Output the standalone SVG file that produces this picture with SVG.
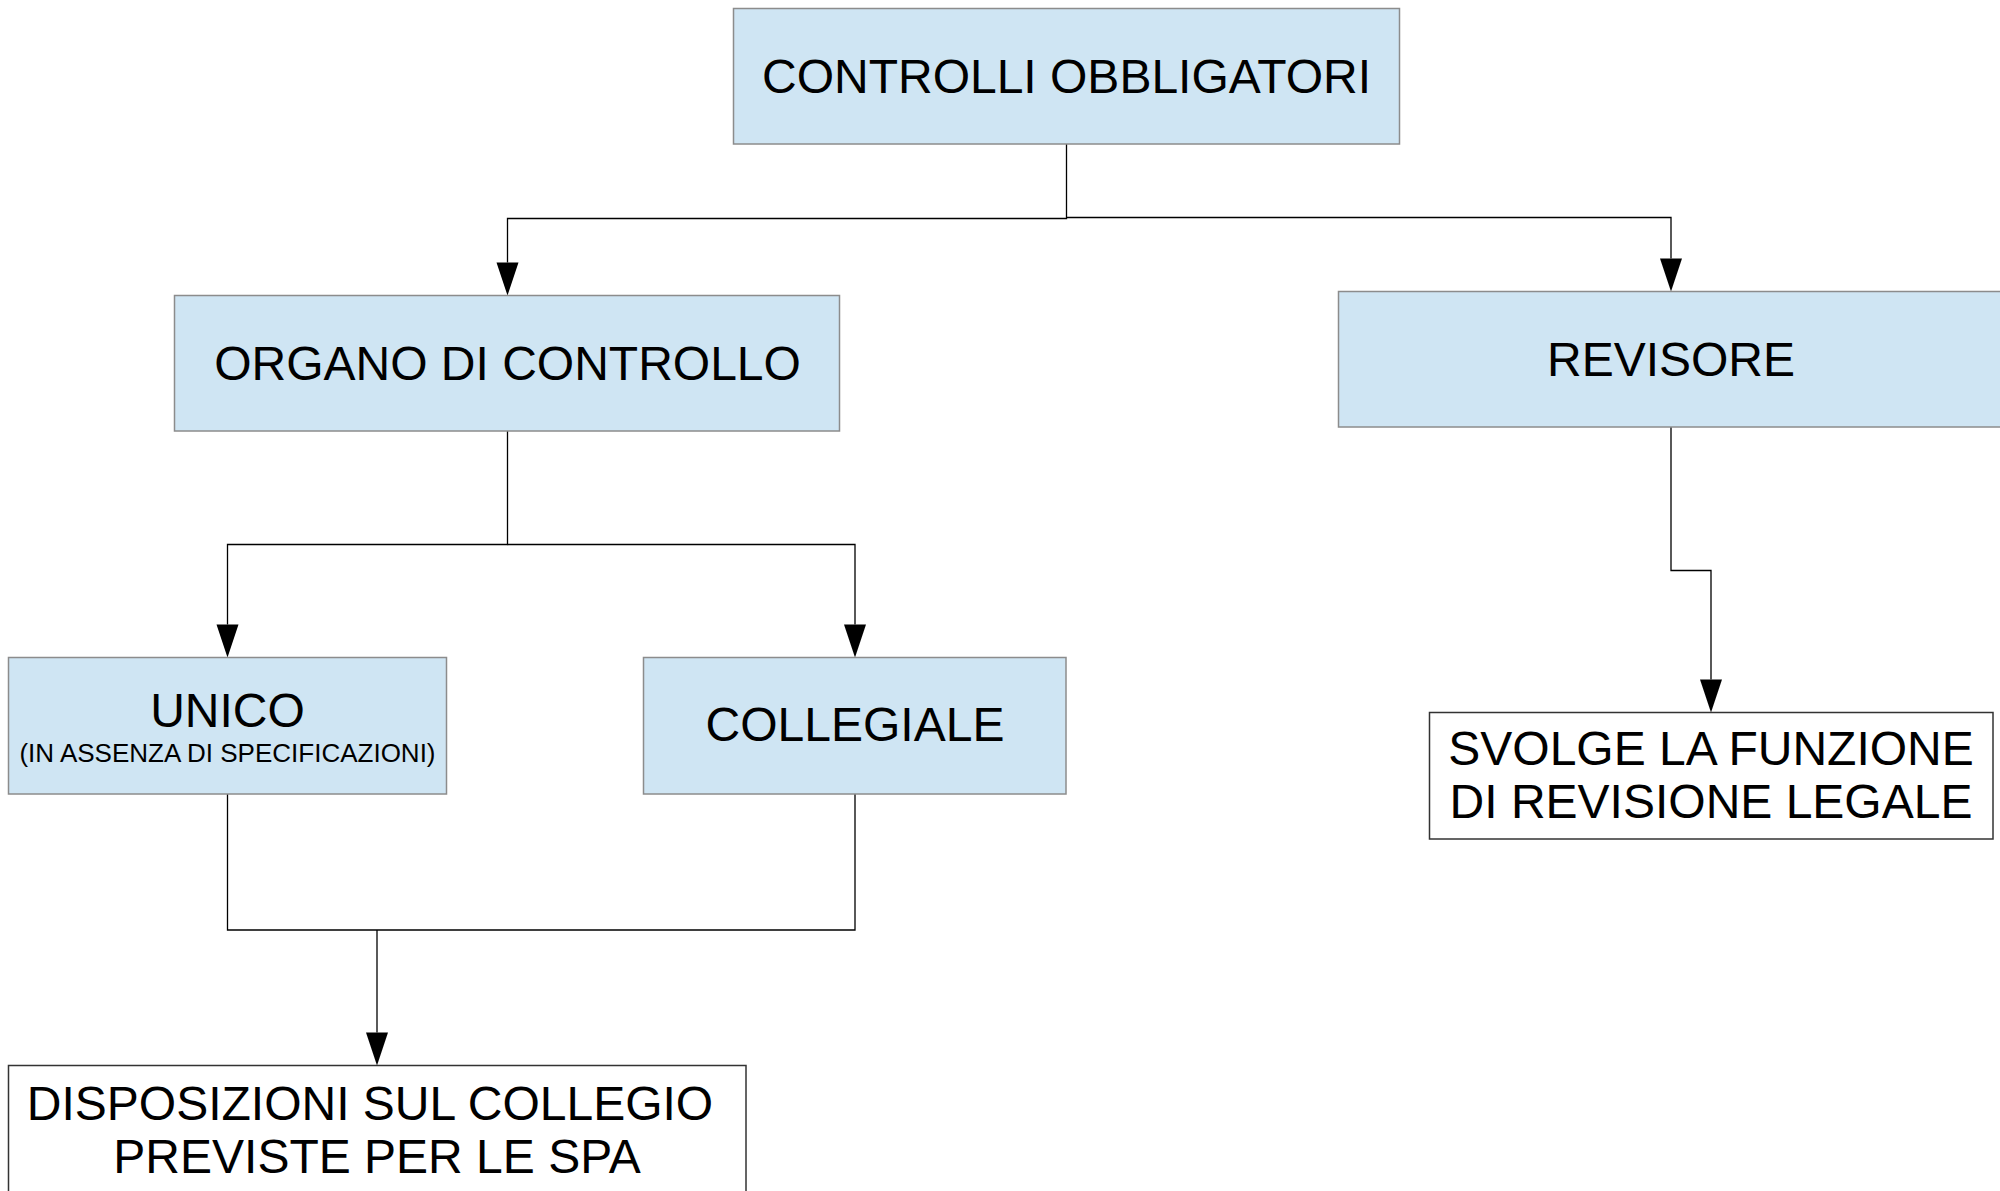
<svg xmlns="http://www.w3.org/2000/svg" width="2000" height="1191" viewBox="0 0 2000 1191">
<style>
  .blue { fill: #cfe5f3; stroke: #8c8c8c; stroke-width: 1.5; }
  .white { fill: #ffffff; stroke: #333333; stroke-width: 1.5; }
  .t { font-family: "Liberation Sans", Arial, sans-serif; font-size: 48px; fill: #000; text-anchor: middle; }
  .s { font-family: "Liberation Sans", Arial, sans-serif; font-size: 26px; fill: #000; text-anchor: middle; }
  .c { fill: none; stroke: #000; stroke-width: 1.3; }
</style>
<defs>
  <marker id="arr" viewBox="0 0 22 33" refX="11" refY="33" markerWidth="22" markerHeight="33" markerUnits="userSpaceOnUse" orient="auto-start-reverse">
    <path d="M0,0 L22,0 L11,33 Z" fill="#000"/>
  </marker>
</defs>
<rect width="2000" height="1191" fill="#fff"/>
<g id="connectors">
  <path class="c" d="M1066.5,144 V218.5 H507.5 V262.5"/>
  <path class="c" d="M1066.5,217.5 H1671 V258.5"/>
  <path class="c" d="M507.5,431 V544.5 H227.5 V624.5"/>
  <path class="c" d="M507.5,544.5 H855 V624.5"/>
  <path class="c" d="M227.5,794 V930 H855 V794"/>
  <path class="c" d="M377,930 V1032.5"/>
  <path class="c" d="M1671,427 V570.5 H1711 V679.5"/>
  <g fill="#000">
    <path d="M496.5,262.5 H518.5 L507.5,295.5 Z"/>
    <path d="M1660,258.5 H1682 L1671,291.5 Z"/>
    <path d="M216.5,624.5 H238.5 L227.5,657.5 Z"/>
    <path d="M844,624.5 H866 L855,657.5 Z"/>
    <path d="M366,1032.5 H388 L377,1065.5 Z"/>
    <path d="M1700,679.5 H1722 L1711,712.5 Z"/>
  </g>
</g>
<g id="controlli">
  <rect class="blue" x="733.5" y="8.5" width="666" height="135.5"/>
  <text class="t" x="1066.5" y="93">CONTROLLI OBBLIGATORI</text>
</g>
<g id="organo">
  <rect class="blue" x="174.5" y="295.5" width="665" height="135.5"/>
  <text class="t" x="507.5" y="380">ORGANO DI CONTROLLO</text>
</g>
<g id="revisore">
  <rect class="blue" x="1338.5" y="291.5" width="670" height="135.5"/>
  <text class="t" x="1671" y="376">REVISORE</text>
</g>
<g id="unico">
  <rect class="blue" x="8.5" y="657.5" width="438" height="136.5"/>
  <text class="t" x="227.5" y="727">UNICO</text>
  <text class="s" x="227.5" y="762">(IN ASSENZA DI SPECIFICAZIONI)</text>
</g>
<g id="collegiale">
  <rect class="blue" x="643.5" y="657.5" width="422.5" height="136.5"/>
  <text class="t" x="855" y="741">COLLEGIALE</text>
</g>
<g id="svolge">
  <rect class="white" x="1429.5" y="712.5" width="563.5" height="126.5"/>
  <text class="t" x="1711" y="765">SVOLGE LA FUNZIONE</text>
  <text class="t" x="1711" y="818">DI REVISIONE LEGALE</text>
</g>
<g id="disposizioni">
  <rect class="white" x="8.5" y="1065.5" width="737.5" height="140"/>
  <text class="t" x="370" y="1120">DISPOSIZIONI SUL COLLEGIO</text>
  <text class="t" x="377" y="1173">PREVISTE PER LE SPA</text>
</g>
</svg>
